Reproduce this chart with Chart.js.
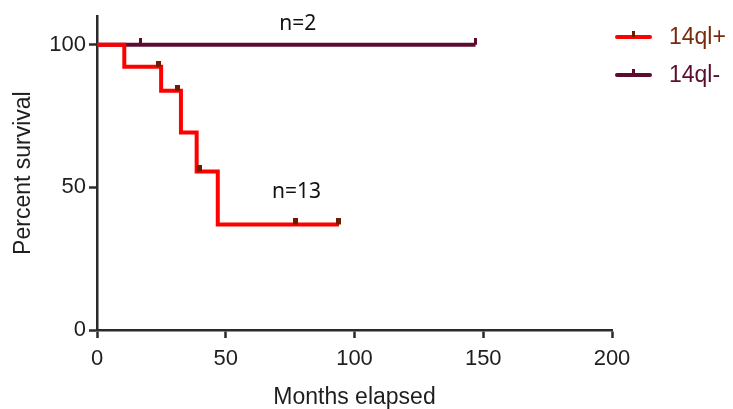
<!DOCTYPE html>
<html>
<head>
<meta charset="utf-8">
<script src="https://cdn.jsdelivr.net/npm/chart.js@4/dist/chart.umd.min.js"></script>
<style>
  html, body { margin: 0; padding: 0; background: #fff; }
  canvas { display: block; }
</style>
</head>
<body>
<canvas id="survivalChart" width="733" height="409"></canvas>
<script>
// Kaplan-Meier steps (months, percent)
const SERIES_LABELS = ['14ql+', '14ql-'];
const POS_TIMES = [0, 10.6, 24.9, 32.6, 38.7, 46.9, 94];
const POS_SURVIVAL = [100, 92.3, 83.9, 69.2, 55.6, 37.0, 37.0];
const POS_CENSOR_TIMES = [24, 31.3, 39.7, 76.9, 93.9];
const POS_CENSOR_SURVIVAL = [92.3, 83.9, 55.6, 37.0, 37.0];
const NEG_TIMES = [0, 147];
const NEG_SURVIVAL = [100, 100];
const NEG_CENSOR_TIMES = [17, 147];
const NEG_CENSOR_SURVIVAL = [100, 100];
const X_TICKS = [0, 50, 100, 150, 200];
const Y_TICKS = [0, 50, 100];
const GROUP_SIZES = ['n=13', 'n=2'];

const RED = '#ff0000';
const PURPLE = '#5b0c30';
const BROWN = '#6e1c00';
const AXIS = '#2a2a2a';
const TEXT = '#1e1e1e';
const FONT = '"Liberation Sans", Arial, sans-serif';

function toPoints(aX, aY) {
    return aX.map(function (x, i) { return { x: x, y: aY[i] }; });
}

// small offscreen marks so the censor tick sits on top of the line
function makeMark(w, h, fillH, color) {
    const c = document.createElement('canvas');
    c.width = w;
    c.height = h;
    const ctx = c.getContext('2d');
    ctx.fillStyle = color;
    ctx.fillRect(0, 0, w, fillH);
    return c;
}
const redMark = makeMark(5, 12, 6, BROWN);
const purpleMark = makeMark(3, 14, 7, PURPLE);

const annotations = {
    id: 'annotations',
    afterDatasetsDraw: function (chart) {
        const ctx = chart.ctx;
        const x = chart.scales.x;
        const y = chart.scales.y;
        ctx.save();
        ctx.font = '21px "Noto Sans", "Open Sans", sans-serif';
        ctx.fillStyle = '#111';
        ctx.textAlign = 'center';
        ctx.textBaseline = 'middle';
        ctx.fillText(GROUP_SIZES[0], x.getPixelForValue(77.5), y.getPixelForValue(48.5));
        ctx.fillText(GROUP_SIZES[1], x.getPixelForValue(78), y.getPixelForValue(107.4));
        ctx.restore();
    }
};

const sideLegend = {
    id: 'sideLegend',
    afterDraw: function (chart) {
        const ctx = chart.ctx;
        const aItems = [
            { label: SERIES_LABELS[0], line: RED, mark: BROWN, text: '#7a2a0c', y: 37 },
            { label: SERIES_LABELS[1], line: PURPLE, mark: PURPLE, text: '#5b0c30', y: 75 }
        ];
        ctx.save();
        aItems.forEach(function (item) {
            ctx.strokeStyle = item.line;
            ctx.lineWidth = 4;
            ctx.lineCap = 'round';
            ctx.beginPath();
            ctx.moveTo(617, item.y);
            ctx.lineTo(650, item.y);
            ctx.stroke();
            ctx.fillStyle = item.mark;
            ctx.fillRect(632, item.y - 6, 3, 6);
            ctx.fillStyle = item.text;
            ctx.font = '23px ' + FONT;
            ctx.textBaseline = 'middle';
            ctx.fillText(item.label, 669, item.y + 1);
        });
        ctx.restore();
    }
};

new Chart(document.getElementById('survivalChart').getContext('2d'), {
    type: 'line',
    data: {
        datasets: [
            {
                label: SERIES_LABELS[0] + ' censored',
                data: toPoints(POS_CENSOR_TIMES, POS_CENSOR_SURVIVAL),
                showLine: false,
                pointStyle: redMark,
                order: 1
            },
            {
                label: SERIES_LABELS[1] + ' censored',
                data: toPoints(NEG_CENSOR_TIMES, NEG_CENSOR_SURVIVAL),
                showLine: false,
                pointStyle: purpleMark,
                order: 1
            },
            {
                label: SERIES_LABELS[0],
                data: toPoints(POS_TIMES, POS_SURVIVAL),
                borderColor: RED,
                borderWidth: 4,
                stepped: true,
                pointRadius: 0,
                order: 2
            },
            {
                label: SERIES_LABELS[1],
                data: toPoints(NEG_TIMES, NEG_SURVIVAL),
                borderColor: PURPLE,
                borderWidth: 4,
                stepped: true,
                pointRadius: 0,
                order: 3
            }
        ]
    },
    options: {
        responsive: false,
        animation: false,
        layout: { padding: { top: 15, right: 121, left: 6, bottom: 0 } },
        plugins: {
            legend: { display: false },
            tooltip: { enabled: false }
        },
        scales: {
            x: {
                type: 'linear',
                min: 0,
                max: 200,
                afterBuildTicks: function (scale) {
                    scale.ticks = X_TICKS.map(function (v) { return { value: v }; });
                },
                afterFit: function (scale) {
                    scale.height = 79;
                },
                border: { color: AXIS, width: 2.5 },
                grid: { drawOnChartArea: false, tickLength: 8, tickColor: AXIS, tickWidth: 2.5 },
                ticks: { color: TEXT, font: { family: FONT, size: 22 }, padding: 8, maxRotation: 0 },
                title: {
                    display: true,
                    text: 'Months elapsed',
                    color: TEXT,
                    font: { family: FONT, size: 23, lineHeight: 1 },
                    padding: { top: 0, bottom: 0 }
                }
            },
            y: {
                type: 'linear',
                min: 0,
                max: 110,
                afterBuildTicks: function (scale) {
                    scale.ticks = Y_TICKS.map(function (v) { return { value: v }; });
                },
                afterFit: function (scale) {
                    scale.width = 91;
                },
                border: { color: AXIS, width: 2.5 },
                grid: { drawOnChartArea: false, tickLength: 8, tickColor: AXIS, tickWidth: 2.5 },
                ticks: { color: TEXT, font: { family: FONT, size: 22 }, padding: 3 },
                title: {
                    display: true,
                    text: 'Percent survival',
                    color: TEXT,
                    font: { family: FONT, size: 23 },
                    padding: { top: 4, bottom: 0 }
                }
            }
        }
    },
    plugins: [annotations, sideLegend]
});
</script>
</body>
</html>
